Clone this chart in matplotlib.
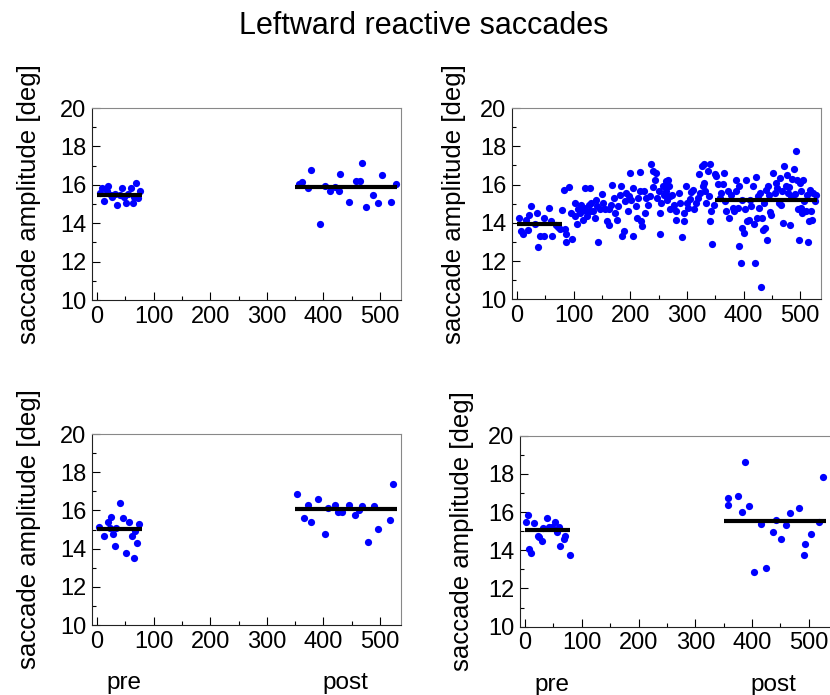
import numpy as np
import matplotlib
matplotlib.use('Agg')
import matplotlib.pyplot as plt
from matplotlib.ticker import MultipleLocator

plt.rcParams['font.family'] = ['Liberation Sans', 'DejaVu Sans']

# Painel superior esquerdo
tl_pre_x = [5, 8, 12, 17, 20, 24, 27, 32, 36, 40, 44, 47, 51, 55, 60, 63, 66, 69, 73, 76]
tl_pre_y = [15.55, 15.86, 15.15, 15.69, 15.95, 15.45, 15.34, 15.50, 14.96, 15.45,
            15.86, 15.34, 15.05, 15.51, 15.86, 15.05, 15.39, 16.12, 15.30, 15.69]
tl_post_x = [356, 363, 372, 378, 394, 402, 411, 420, 427, 430,
             445, 458, 464, 469, 476, 488, 497, 503, 519, 528]
tl_post_y = [16.05, 16.14, 15.86, 16.75, 13.96, 15.96, 15.67, 15.88, 15.67, 16.57,
             15.13, 16.21, 16.21, 17.11, 14.87, 15.49, 15.04, 16.49, 15.13, 16.05]
tl_means = [15.48, 15.88]

# Painel superior direito (todas as tentativas)
tr_x = [3.5, 7.6, 10.6, 16.5, 21, 25.3, 19.4, 31, 35.3, 37.6, 41, 47, 47, 56.5, 59, 62,
        69.4, 72.4, 75.3, 80, 84, 86, 87, 82.4, 91.8, 96, 97.6, 101.8, 101.8, 105,
        107.6, 110.6, 113.5, 116.5, 117.6, 119.4, 121, 123.5, 127, 128.2, 129.4, 131,
        134, 137.6, 140, 141.8, 143.5, 146, 149.4, 151.8, 154.7, 158.8, 162.4, 161.8,
        166.5, 168, 170.6, 173, 176.5, 178, 181, 184, 186, 188.8, 190, 193, 196, 197.6,
        200, 201.8, 204.7, 204.7, 209.4, 211.8, 214, 216.5, 217.6, 219.4, 221, 223.5,
        225.3, 228, 231, 234, 237, 239.4, 240.6, 243.5, 245.3, 248, 250.6, 253, 253,
        254.7, 257.6, 258.8,
        263, 267, 269, 263, 271, 265, 274, 270.6, 276.5, 280.6, 280.6, 286.5, 288, 292,
        294, 295, 298, 300, 302, 305.6, 308, 310, 313, 316, 319, 322, 324, 326, 328,
        329.4, 330.6, 331.8, 333.5, 337.6, 339.4, 341, 342.4, 341, 344, 347, 349.4, 351,
        355, 358.8, 361, 363, 364.7, 367, 368.8, 373, 374.7, 377.6, 380.6, 383.5, 386.5,
        386.5, 389.4, 392.4, 392.4, 395.3, 396.5, 398.2, 400, 402.4, 404, 407, 410,
        411.8, 414, 416, 418, 420, 421.8, 423.5, 426, 427.6, 429.4, 431.8, 433.5, 434,
        436.5, 437.6, 439.4, 441, 443.5, 445.9, 447, 449.4, 452.9, 455.3, 457, 460, 463,
        464.7, 467, 468.8, 470.6, 471.8, 474.7, 477.6, 478.8, 480.6, 482.4, 483.5,
        486.5, 489.4, 490.6, 493, 495.3, 496.5, 498.2, 500, 501, 502.4, 504, 506, 507,
        510, 511.8, 514, 516, 517.6, 518.8, 521.8, 523.5, 525.9, 527.6]
tr_y = [14.26, 13.56, 13.44, 14.14, 14.42, 14.87, 13.61, 13.96, 14.52, 12.72, 13.34,
        13.34, 14.23, 14.77, 14.09, 13.34, 13.91, 13.79, 13.68, 14.66, 13.68, 13.44,
        12.99, 15.74, 15.85, 14.52, 13.16, 15.05, 14.35, 13.96, 14.70, 14.52, 14.96,
        14.14, 14.77, 15.83, 14.61, 14.35, 14.96, 15.83, 14.61, 15.05, 14.61, 14.26,
        15.22, 14.87, 12.99, 14.70, 15.52, 15.05, 14.70, 14.09, 13.91, 14.70, 14.96,
        15.97, 15.31, 14.52, 14.17, 14.87, 15.45, 15.92, 13.34, 13.56, 15.13, 15.57,
        14.61, 15.40, 16.58, 15.22, 15.83, 13.34, 14.87, 14.26, 15.31, 16.65, 15.67,
        14.09, 13.82, 15.67, 14.52, 15.31, 14.96, 15.40, 17.05, 15.88, 16.70, 16.23,
        16.61, 15.31, 15.66, 13.42, 14.52, 15.05, 15.92, 15.48,
        16.18, 16.23, 15.92, 15.66, 15.39, 15.22, 15.48, 14.70, 14.96, 14.61, 14.17,
        15.57, 15.05, 13.25, 14.09, 14.52, 15.92, 15.05, 14.78, 15.25, 15.60, 15.74,
        14.70, 15.05, 15.31, 16.53, 15.57, 16.97, 15.92, 16.09, 17.05, 15.66, 15.05,
        16.70, 15.40, 17.05, 14.61, 14.09, 12.90, 14.96, 16.53, 16.44, 16.01, 15.31,
        15.57, 16.01, 16.58, 15.13, 14.61, 15.66, 14.26, 15.48, 14.78, 14.61, 16.23,
        15.66, 14.78, 15.95, 12.78, 11.90, 15.22, 13.74, 13.47, 14.70, 16.23, 14.09,
        14.17, 15.22, 14.87, 15.95, 13.96, 11.90, 16.41, 14.26, 15.40, 14.78, 15.57,
        10.65, 14.26, 13.65, 15.05, 13.74, 15.74, 13.09, 15.92, 15.48, 14.56, 14.43,
        16.58, 15.57, 16.09, 15.83, 15.05, 16.35, 14.96, 15.66, 14.00, 16.97, 15.95,
        16.48, 15.57, 15.88, 13.91, 15.40, 16.30, 16.83, 15.53, 17.75, 16.23, 14.70,
        13.09, 16.09, 14.78, 15.66, 14.52, 16.23, 15.13, 14.61, 15.48, 12.99, 14.09,
        15.74, 14.61, 14.17, 15.57, 15.13, 15.48]
tr_means = [13.93, 15.22]

# Painel inferior esquerdo
bl_pre_x = [3.5, 12.3, 19.4, 25.3, 22.4, 28.3, 34.2, 31.2, 40, 45.9, 55.9, 51.8, 61.7,
            64.7, 67.7, 70.5, 73.5]
bl_pre_y = [15.15, 14.68, 15.41, 15.67, 15.06, 14.76, 15.06, 14.14, 16.40, 15.59,
            15.41, 13.79, 14.68, 13.51, 14.92, 14.31, 15.30]
bl_post_x = [353, 365, 372, 378, 390, 402, 408, 421, 426.5, 432, 445, 456.6, 462.5,
             469, 478, 490, 496, 517, 523.5]
bl_post_y = [16.84, 15.59, 16.30, 15.39, 16.58, 14.78, 16.13, 16.30, 15.93, 15.93,
             16.30, 15.76, 16.02, 16.21, 14.33, 16.21, 15.04, 15.50, 17.38]
bl_means = [15.03, 16.07]

# Painel inferior direito
br_pre_x = [1.7, 4.6, 7.6, 10.6, 16.4, 22.3, 24, 29.3, 32.3, 38.2, 43, 47, 53, 55.8,
            59.4, 62.4, 67.7, 70.7, 78.3]
br_pre_y = [15.50, 15.85, 14.05, 13.87, 15.41, 14.75, 14.68, 14.50, 15.15, 15.67,
            15.20, 15.24, 15.50, 14.94, 15.20, 14.23, 14.59, 14.76, 13.77]
br_post_x = [357.4, 357.4, 375.6, 381.6, 388, 394, 403.4, 415.7, 424.6, 436.4, 442.2,
             451.6, 460.4, 467, 482.3, 491.2, 494, 503.5, 518.7, 524.6]
br_post_y = [16.75, 16.39, 16.84, 16.02, 18.64, 16.30, 12.86, 15.39, 13.06, 14.96,
             15.59, 14.59, 15.31, 15.94, 16.21, 13.77, 14.31, 14.85, 15.48, 17.84]
br_means = [15.06, 15.53]

pre_block = [0, 80]
post_block = [350, 530]


def painel(ax, xs, ys, means, xmax=537, rotulos=False, lpad=10):
    for x, y in zip(xs, ys):
        ax.plot(x, y, 'o', color='#0000ff', ms=5.2, mec='none', zorder=2)
    ax.plot(pre_block, [means[0]] * 2, color='black', lw=3, zorder=3,
            solid_capstyle='butt')
    ax.plot(post_block, [means[1]] * 2, color='black', lw=3, zorder=3,
            solid_capstyle='butt')
    ax.set_xlim(-9, xmax)
    ax.set_ylim(10, 20)
    ax.xaxis.set_major_locator(MultipleLocator(100))
    ax.xaxis.set_minor_locator(MultipleLocator(50))
    ax.yaxis.set_major_locator(MultipleLocator(2))
    ax.yaxis.set_minor_locator(MultipleLocator(1))
    ax.tick_params(which='both', direction='in', top=False, right=False,
                   labelsize=17, pad=4)
    ax.tick_params(which='major', length=6, width=0.8)
    ax.tick_params(which='minor', length=3, width=0.8)
    ax.spines['left'].set_color('#222222')
    ax.spines['bottom'].set_color('#222222')
    ax.spines['top'].set_color('#888888')
    ax.spines['right'].set_color('#888888')
    ax.set_ylabel('saccade amplitude [deg]', fontsize=18.5, labelpad=lpad)
    if rotulos:
        for x, txt in [(48, 'pre'), (438, 'post')]:
            ax.annotate(txt, xy=(x, 0), xycoords=('data', 'axes fraction'),
                        xytext=(0, -42), textcoords='offset points',
                        ha='center', va='center', fontsize=17.5)


fig = plt.figure(figsize=(8.3, 6.95), dpi=100)
ax1 = fig.add_axes([0.1108, 0.5683, 0.3723, 0.2763])
ax2 = fig.add_axes([0.6169, 0.5691, 0.3723, 0.2755])
ax3 = fig.add_axes([0.1108, 0.1007, 0.3723, 0.2748])
ax4 = fig.add_axes([0.6265, 0.0983, 0.3759, 0.2748])

painel(ax1, tl_pre_x + tl_post_x, tl_pre_y + tl_post_y, tl_means, lpad=14)
painel(ax2, tr_x, tr_y, tr_means)
painel(ax3, bl_pre_x + bl_post_x, bl_pre_y + bl_post_y, bl_means, rotulos=True,
       lpad=14)
painel(ax4, br_pre_x + br_post_x, br_pre_y + br_post_y, br_means, xmax=541,
       rotulos=True)

fig.text(0.51, 1 - 26 / 695, 'Leftward reactive saccades', ha='center', va='center',
         fontsize=22)

fig.savefig('out.png', dpi=100)
